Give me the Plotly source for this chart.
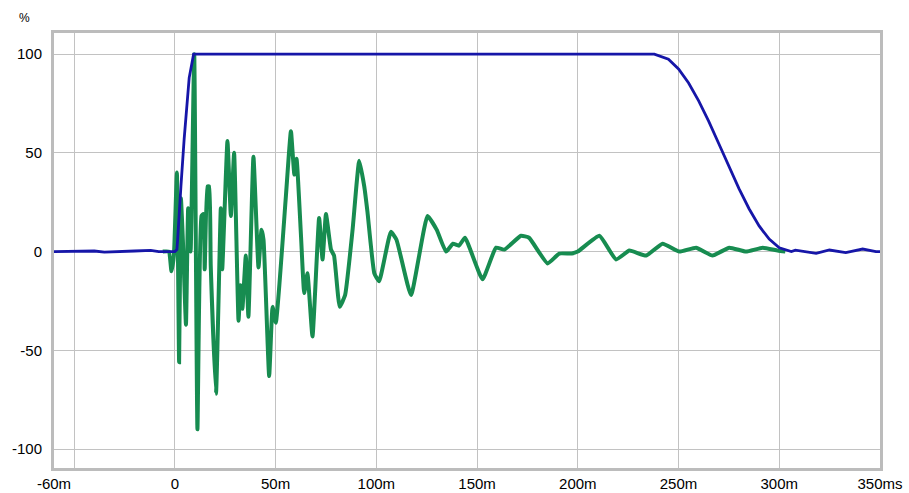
"""
Impulse response with its analysis window, drawn as Plotly line traces.
"""

import plotly.graph_objects as go

# Impulse response (green), time in ms, level in %
ir_time = [-6, -3, -1.7, -0.5, 1, 2.1, 3, 4, 5.5, 6.6, 7.8, 9.6, 11.2,
           13.2, 14.2, 14.8, 16.2, 17, 17.8, 20.4, 22.8, 23.5, 26.1, 27.8,
           29.4, 31.6, 32.6, 33.5, 35.2, 36.5, 39, 41.5, 43, 44, 46.8, 48.5,
           50.1, 55.1, 57.6, 59.3, 60.4, 62.6, 64.2, 65.8, 68.3, 71.6, 73.3,
           75, 77.5, 79, 81.8, 84.5, 88.2, 91.5, 94, 95.6, 99, 101.4, 107.2,
           110, 117.2, 125.4, 130, 134.6, 138, 141, 144, 152.7, 159.4, 163.5,
           171.8, 175.8, 185, 190.8, 197, 200, 210.7, 219, 225.6, 233.9,
           242.1, 250.4, 258.7, 266.9, 275.2, 283.5, 291.8, 299.2, 303]
ir_level = [0, 0, -10, -2, 40, -56, 27, 5, -37, 22, 0, 100, -90,
            18, 19, -9, 33, 33, -7, -72, 22, -9, 56, 18,
            50, -35, -17, -29, -2, -33, 48, -8, 11, 6, -63, -28,
            -36, 28, 61, 39, 47, 8, -21, -11, -43, 17, -4,
            19, 1, -2, -28, -22, 11, 46, 33, 20, -11, -15, 10,
            6, -22, 18, 11, 0, 4, 3, 7, -14, 2, 1,
            8, 7, -6, -1, -1, 0, 8, -4, 0.5, -2,
            4, 0, 2, -2, 2, 0, 2, 0.5, 0]

# Window (blue), with the small residue outside it
win_time = [-60, -45, -40, -35, -30, -20, -12, -8, -4, 0, 1, 1.3, 3, 4.6,
            7.1, 9.3, 238, 245, 250, 255, 260, 265, 270, 275, 280, 285, 290,
            295, 300, 306, 308, 318.3, 324.9, 333, 341.4, 348, 350]
win_level = [0, 0, 0.3, -0.3, 0, 0.3, 0.6, 0, 0, 0, 1, 5, 33, 57,
             88, 100, 100, 97.4, 92.5, 85.4, 76.3, 65.9, 54.6, 43.1, 31.9,
             21.7, 13, 6.3, 1.9, 0, 0.7, -0.9, 0.8, -0.5, 1.3, 0, 0]

x_tick_vals = [-60, 0, 50, 100, 150, 200, 250, 300, 350]
x_tick_text = ['-60m', '0', '50m', '100m', '150m', '200m', '250m', '300m',
               '350ms']
x_grid_vals = [-50, 0, 50, 100, 150, 200, 250, 300]
y_tick_vals = [-100, -50, 0, 50, 100]
y_tick_text = ['-100', '-50', '0', '50', '100']

BLUE = '#1616a8'
GREEN = '#178c50'
GRID = '#c2c2c2'
FRAME = '#bcbcbc'


def build_figure():
    """Create the impulse/window line chart.

    :return: go.Figure.
    """
    fig = go.Figure()
    fig.add_trace(go.Scatter(x=ir_time, y=ir_level, mode='lines',
                             line={'color': GREEN, 'width': 4,
                                   'shape': 'spline', 'smoothing': 0.4},
                             showlegend=False))
    fig.add_trace(go.Scatter(x=win_time, y=win_level, mode='lines',
                             line={'color': BLUE, 'width': 2.8},
                             showlegend=False))

    fig.update_layout(
        width=909, height=493,
        margin={'l': 54, 'r': 29, 't': 33, 'b': 25},
        plot_bgcolor='#FFFFFF', paper_bgcolor='#FFFFFF',
        font={'family': 'Liberation Sans, Arial', 'size': 15,
              'color': '#000000'},
    )
    # '%' unit label above the y tick labels, near the top left corner
    fig.add_annotation(text='%', x=-0.036, y=1.035, xref='paper',
                       yref='paper', xanchor='center', yanchor='middle',
                       showarrow=False, font={'size': 12})

    fig.update_xaxes(
        range=[-60, 350], tickvals=x_tick_vals, ticktext=x_tick_text,
        showgrid=False, zeroline=False, ticks='', automargin=False,
        showline=True, mirror=True, linecolor=FRAME, linewidth=3,
        minor={'tickvals': x_grid_vals, 'showgrid': True,
               'gridcolor': GRID, 'gridwidth': 1},
    )
    fig.update_yaxes(
        range=[-109.6, 110.7], tickvals=y_tick_vals, ticktext=y_tick_text,
        showgrid=True, gridcolor=GRID, gridwidth=1,
        zeroline=False, ticks='', ticklabelstandoff=6, automargin=False,
        showline=True, mirror=True, linecolor=FRAME, linewidth=3,
    )
    return fig


fig = build_figure()
fig.write_html("out.html", config={'displayModeBar': False},
               post_script="document.body.style.margin = '0';")
